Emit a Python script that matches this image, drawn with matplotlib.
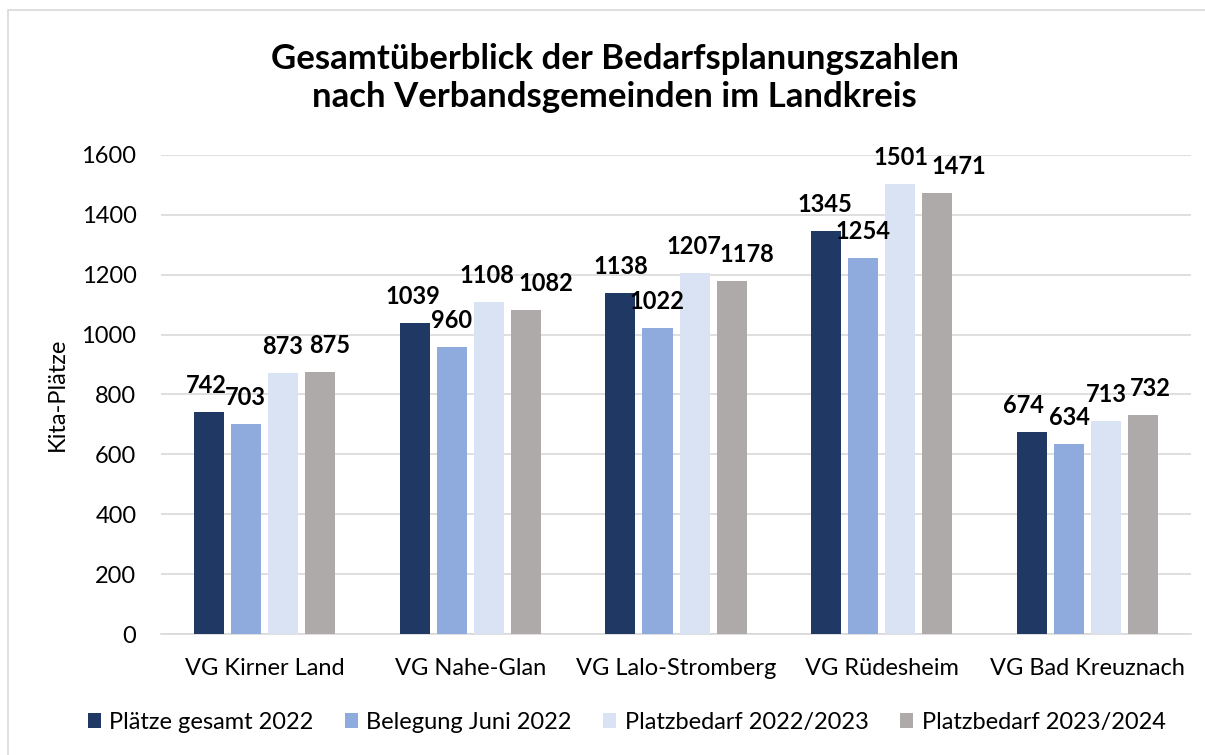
import matplotlib
matplotlib.use("Agg")
import matplotlib.pyplot as plt
from matplotlib.patches import Rectangle
import numpy as np

plt.rcParams['font.family'] = ['Lato', 'DejaVu Sans']

# data
gemeinden = ["VG Kirner Land", "VG Nahe-Glan", "VG Lalo-Stromberg", "VG Rüdesheim", "VG Bad Kreuznach"]
plaetze_2022 = [742, 1039, 1138, 1345, 674]
belegung_juni_2022 = [703, 960, 1022, 1254, 634]
bedarf_2022_23 = [873, 1108, 1207, 1501, 713]
bedarf_2023_24 = [875, 1082, 1178, 1471, 732]

series_names = ["Plätze gesamt 2022", "Belegung Juni 2022", "Platzbedarf 2022/2023", "Platzbedarf 2023/2024"]
series = [plaetze_2022, belegung_juni_2022, bedarf_2022_23, bedarf_2023_24]
colors = ["#203864", "#8FAADC", "#DAE3F3", "#AEAAAA"]
yticks = [0, 200, 400, 600, 800, 1000, 1200, 1400, 1600]

# horizontal nudges (pixels) of the value labels, like the excel layout
label_dx = [[-2, -2, 0, -1, -9],
            [0, 0, 0, 0, 0],
            [0, -2, -1, 1, 0],
            [10, 20, 15, 21, 7]]

fig = plt.figure(figsize=(12.05, 7.55), dpi=100)
ax = fig.add_axes([0.134, 0.160, 0.854, 0.635])

x = np.arange(len(gemeinden))
width = 0.146
step = 0.18
for i, (name, vals, col) in enumerate(zip(series_names, series, colors)):
    pos = x + (i - 1.5) * step
    bars = ax.bar(pos, vals, width, color=col, label=name, zorder=3)
    for j, (b, v) in enumerate(zip(bars, vals)):
        ax.annotate(str(v), (b.get_x() + b.get_width() / 2, v),
                    xytext=(label_dx[i][j], 19), textcoords="offset pixels",
                    ha="center", va="baseline", fontsize=17, fontweight="bold",
                    zorder=4)

ax.set_ylim(0, 1600)
ax.set_xlim(-0.5, len(gemeinden) - 0.5)
ax.set_yticks(yticks)
ax.yaxis.grid(True, color="#D9D9D9", linewidth=1.2, zorder=0)
ax.set_xticks(x)
ax.set_xticklabels(gemeinden)
ax.tick_params(axis="both", length=0, labelsize=17)
ax.tick_params(axis="y", pad=18)
ax.tick_params(axis="x", pad=17)
for s in ["top", "right", "left"]:
    ax.spines[s].set_visible(False)
ax.spines["bottom"].set_color("#D9D9D9")
ax.spines["bottom"].set_linewidth(1.2)
ax.set_ylabel("Kita-Plätze", fontsize=17, labelpad=10)

fig.text(0.51, 0.897, "Gesamtüberblick der Bedarfsplanungszahlen\nnach Verbandsgemeinden im Landkreis",
         ha="center", va="center", fontsize=25, fontweight="bold", linespacing=1.25)

ax.legend(loc="center", bbox_to_anchor=(0.452, -0.184), ncol=4, frameon=False,
          fontsize=17, handlelength=0.55, handleheight=0.55, handletextpad=0.35,
          columnspacing=1.35)

fig.patches.append(Rectangle((8 / 1205, -0.01), 1.0, 1 - 10 / 755 + 0.01,
                             transform=fig.transFigure, fill=False,
                             edgecolor="#D9D9D9", linewidth=1.2))

fig.savefig("out.png", dpi=100)
